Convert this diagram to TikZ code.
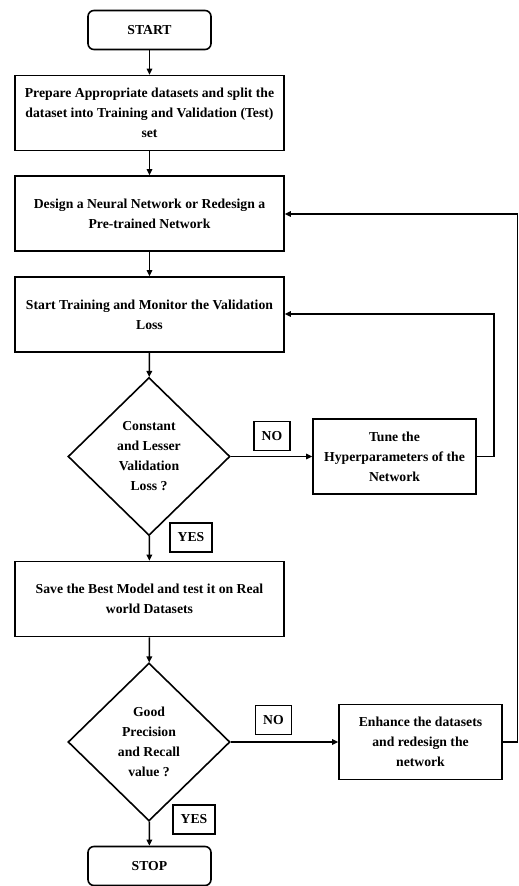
\documentclass[tikz,border=0pt]{standalone}
\usepackage{fontspec}
\setmainfont{Liberation Serif}
\usetikzlibrary{shapes.geometric,arrows.meta}

\begin{document}
\begin{tikzpicture}[x=1pt,y=-1pt,
  txt/.style={font=\bfseries\fontsize{13.7}{20}\selectfont, align=center, inner sep=0pt},
  frame/.style={draw, line width=1.6pt},
  terminal/.style={txt, frame, rounded corners=6pt, minimum width=123pt, minimum height=39pt},
  procbox/.style={txt, frame, minimum width=269pt, minimum height=75pt},
  sidebox/.style={txt, frame, minimum width=163pt, minimum height=75pt},
  decision/.style={txt, frame, diamond, minimum width=162pt, minimum height=158pt},
  tag/.style={txt, draw, line width=1.4pt, minimum height=29pt},
  notag/.style={tag, minimum width=36pt},
  yestag/.style={tag, minimum width=42pt},
  flow/.style={line width=1.5pt, -{Triangle[length=6pt,width=5.5pt]}}
]
\useasboundingbox (0,0) rectangle (519,886);

% main column
\node[terminal] (start) at (149.5,30) {START};
\node[procbox]  (prep)  at (149.5,113) {Prepare Appropriate datasets and split the\\dataset into Training and Validation (Test)\\set};
\node[procbox]  (design) at (149.5,213.5) {Design a Neural Network or Redesign a\\Pre-trained Network};
\node[procbox]  (train) at (149.5,314.5) {Start Training and Monitor the Validation\\Loss};
\node[decision] (loss)  at (149,456.5) {Constant\\and Lesser\\Validation\\Loss ?};
\node[procbox]  (save)  at (149.5,599) {Save the Best Model and test it on Real\\world Datasets};
\node[decision] (prec)  at (149,742) {Good\\Precision\\and Recall\\value ?};
\node[terminal] (stop)  at (149.5,866) {STOP};

% side branches
\node[sidebox] (tune)    at (394.5,456.5) {Tune the\\Hyperparameters of the\\Network};
\node[sidebox] (enhance) at (420.5,742) {Enhance the datasets\\and redesign the\\network};

% branch labels
\node[notag]  (no1)  at (272,436)   {NO};
\node[yestag] (yes1) at (191,537.5) {YES};
\node[notag]  (no2)  at (273.5,720) {NO};
\node[yestag] (yes2) at (194,819.5) {YES};

% feedback corners
\coordinate (tuneR)  at (494,456.5);
\coordinate (tuneT)  at (494,314);
\coordinate (enhR)   at (517.5,742);
\coordinate (enhT)   at (517.5,214);

% connectors
\draw[flow] (start) -- (prep);
\draw[flow] (prep) -- (design);
\draw[flow] (design) -- (train);
\draw[flow] (train) -- (loss);
\draw[flow] (loss) -- (save);
\draw[flow] (save) -- (prec);
\draw[flow] (prec) -- (stop);
\draw[flow] (loss.east) -- (tune.west);
\draw[flow] (prec.east) -- (enhance.west);
\draw[flow] (tune.east) -- (tuneR) -- (tuneT) -- (train.east |- tuneT);
\draw[flow] (enhance.east) -- (enhR) -- (enhT) -- (design.east |- enhT);
\end{tikzpicture}
\end{document}
